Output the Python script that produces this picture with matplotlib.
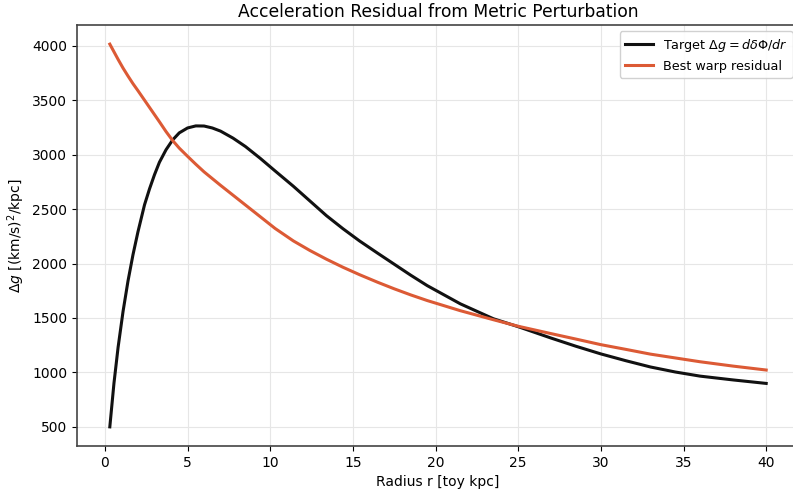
import matplotlib
matplotlib.use("Agg")
import matplotlib.pyplot as plt

# radius grid [toy kpc] and the two curves
radius = [0.3, 0.55, 0.8, 1.1, 1.4, 1.7, 2.0, 2.4, 2.7, 3.0, 3.3, 3.7, 4.1, 4.5, 5.0,
          5.5, 6.0, 6.5, 7.0, 7.75, 8.5, 9.4, 10.3, 11.4, 12.4, 13.4, 14.4, 15.4, 16.5,
          17.5, 18.5, 19.5, 21.5, 23.5, 25.0, 27.0, 28.5, 30.0, 31.5, 33.0, 34.5, 36.0,
          38.0, 40.0]
target = [500, 900, 1230, 1560, 1840, 2080, 2290, 2540, 2685, 2815, 2930, 3045, 3135, 3200, 3245,
          3264, 3263, 3245, 3216, 3152, 3075, 2966, 2850, 2710, 2575, 2440, 2320, 2208, 2095,
          1994, 1893, 1797, 1630, 1493, 1420, 1315, 1240, 1170, 1108, 1050, 1004, 966,
          931, 899]
warp = [4015, 3945, 3875, 3795, 3722, 3652, 3588, 3500, 3434, 3368, 3302, 3212, 3130, 3060, 2985,
        2912, 2842, 2780, 2718, 2628, 2538, 2430, 2322, 2208, 2120, 2040, 1966, 1898, 1828,
        1768, 1712, 1660, 1567, 1484, 1424, 1356, 1306, 1255, 1212, 1168, 1133, 1098,
        1058, 1022]

fig = plt.figure(figsize=(7.93, 4.93), dpi=100)
ax = fig.add_axes([77 / 793, 47 / 493, 722 / 793, 421 / 493])

ax.plot(radius, target, color="#111111", lw=2.2, label=r"Target $\Delta g = d\delta\Phi/dr$")
ax.plot(radius, warp, color="#dc5a35", lw=2.2, label="Best warp residual")

ax.grid(True, color="#e6e6e6", lw=0.8)
ax.set_axisbelow(True)
for side in ("left", "bottom", "top"):
    ax.spines[side].set_color("#444444")
    ax.spines[side].set_linewidth(1.2)
ax.spines["right"].set_visible(False)

ax.set_title("Acceleration Residual from Metric Perturbation", fontsize=12.3)
ax.set_xlabel("Radius r [toy kpc]", fontsize=10)
ax.set_ylabel(r"$\Delta g$ [(km/s)$^2$/kpc]", fontsize=10)
ax.tick_params(labelsize=10)
ax.legend(loc="upper right", fontsize=9.2, handlelength=2.2, framealpha=0.9)

fig.savefig("out.png", dpi=100)
